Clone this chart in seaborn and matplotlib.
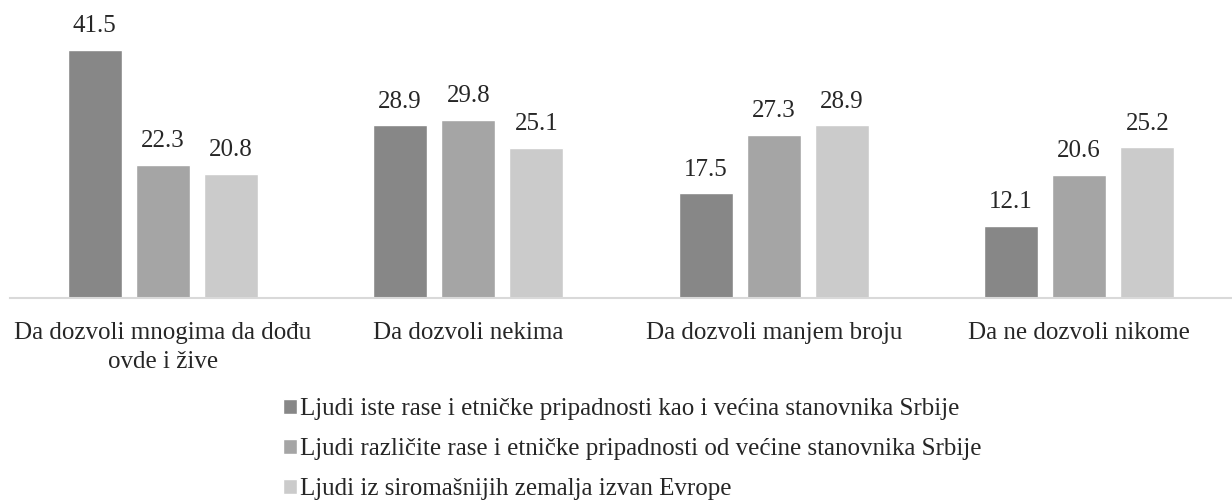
import pandas as pd
import matplotlib.pyplot as plt
import seaborn as sns

categories = ['Da dozvoli mnogima da dođu\novde i žive', 'Da dozvoli nekima',
              'Da dozvoli manjem broju', 'Da ne dozvoli nikome']
series_names = ['Ljudi iste rase i etničke pripadnosti kao i većina stanovnika Srbije',
                'Ljudi različite rase i etničke pripadnosti od većine stanovnika Srbije',
                'Ljudi iz siromašnijih zemalja izvan Evrope']
same_race = [41.5, 28.9, 17.5, 12.1]
diff_race = [22.3, 29.8, 27.3, 20.6]
poorer = [20.8, 25.1, 28.9, 25.2]
colors = ['#878787', '#a5a5a5', '#cbcbcb']

rows = []
for name, vals in zip(series_names, [same_race, diff_race, poorer]):
    for c, v in zip(categories, vals):
        rows.append({'cat': c, 'series': name, 'val': v})
df = pd.DataFrame(rows)

sns.set_style('white')
plt.rcParams['font.family'] = 'serif'
plt.rcParams['font.serif'] = ['Liberation Serif', 'DejaVu Serif']

fig = plt.figure(figsize=(12.32, 5.03), dpi=100)
ax = fig.add_axes([10 / 1232, 205 / 503, 1222 / 1232, 298 / 503])

sns.barplot(data=df, x='cat', y='val', hue='series', palette=colors,
            width=0.67, ax=ax, saturation=1, legend=True)

# narrow bars to leave a gap between them
bw = 54 / 305.5
for p in ax.patches:
    if p.get_height() > 0:
        cx = p.get_x() + p.get_width() / 2
        p.set_width(bw)
        p.set_x(cx - bw / 2)

for cont in ax.containers:
    ax.bar_label(cont, fmt='%.1f', padding=9, fontsize=18)

ax.set_ylim(0, 49.8)
ax.set_xlim(-0.5, 3.5)
ax.set_xlabel('')
ax.set_ylabel('')
ax.set_yticks([])
ax.tick_params(axis='x', length=0, pad=17, labelsize=18)
for lbl in ax.get_xticklabels():
    lbl.set_linespacing(1.45)
for s in ['top', 'right', 'left']:
    ax.spines[s].set_visible(False)
ax.spines['bottom'].set_color('#d9d9d9')
ax.spines['bottom'].set_linewidth(1.5)

handles, labels = ax.get_legend_handles_labels()
ax.legend_.remove()
fig.legend(handles, labels, loc='upper left', bbox_to_anchor=(273 / 1232, 1 - 388 / 503),
           frameon=False, fontsize=18, handlelength=0.55, handleheight=0.55,
           handletextpad=0.15, labelspacing=0.73, borderaxespad=0)

fig.savefig('out.png', dpi=100)
